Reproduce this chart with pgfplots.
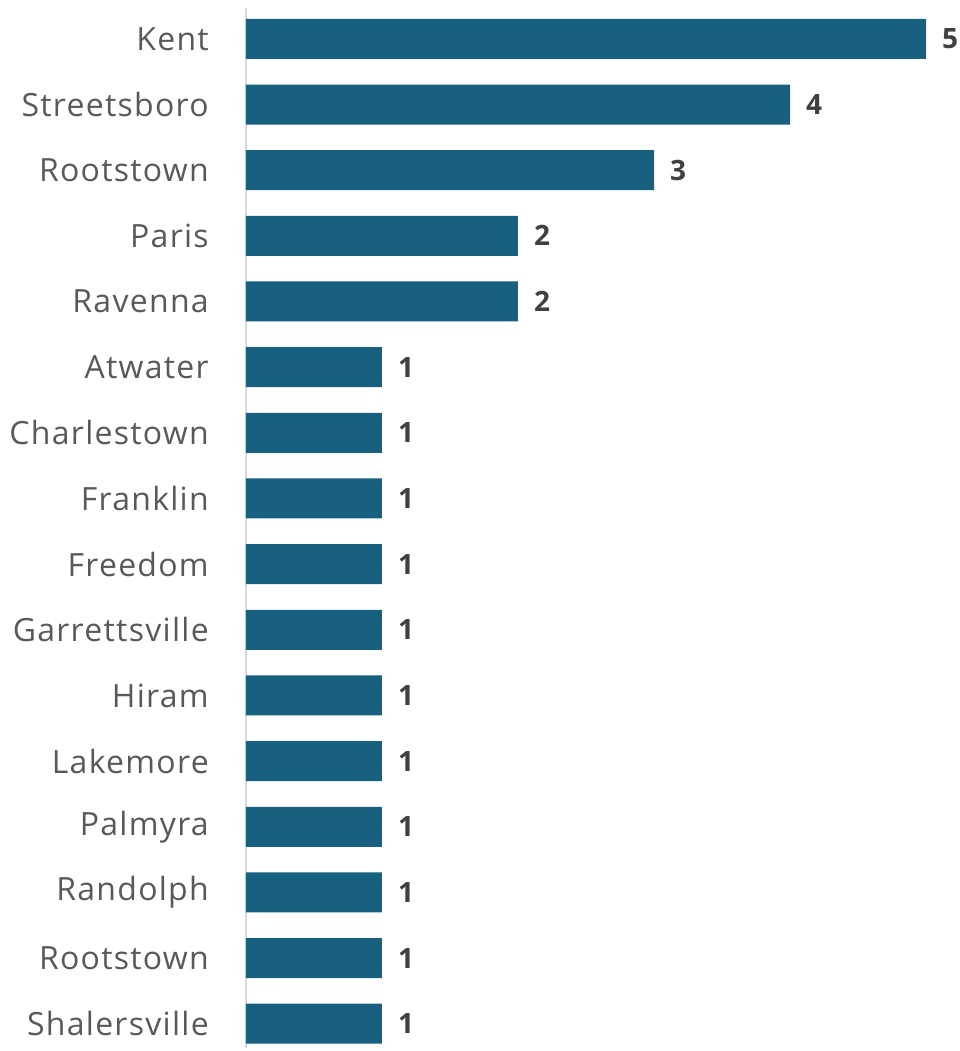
\documentclass[border=0pt]{standalone}
\usepackage{fontspec}
\setmainfont{Open Sans}
\usepackage{pgfplots}
\pgfplotsset{compat=1.18}
\definecolor{barc}{HTML}{17607F}
\definecolor{lab}{HTML}{595959}
\definecolor{val}{HTML}{404040}
\definecolor{axl}{HTML}{D9D9D9}
\begin{document}
\begin{tikzpicture}
\begin{axis}[
  at={(0,0)}, anchor=south west,
  scale only axis, width=680pt, height=1040pt,
  xmin=0, xmax=5, ymin=-0.47, ymax=15.37,
  y dir=reverse,
  xbar, bar width=40pt,
  axis x line=none,
  axis y line=left,
  axis line style={-, draw=axl, line width=2pt},
  ytick={0,...,15},
  yticklabels={Kent,Streetsboro,Rootstown,Paris,Ravenna,Atwater,Charlestown,Franklin,Freedom,Garrettsville,Hiram,Lakemore,Palmyra,Randolph,Rootstown,Shalersville},
  major tick length=0pt,
  yticklabel style={font=\fontsize{32}{36}\selectfont\addfontfeatures{LetterSpace=4}, text=lab, anchor=east, inner sep=0pt, xshift=-37pt},
  /pgf/number format/assume math mode=true,
  nodes near coords,
  every node near coord/.append style={font=\fontsize{28}{32}\selectfont\bfseries, text=val, anchor=west, inner sep=0pt, xshift=16pt},
  clip=false,
]
\addplot[fill=barc, draw=none] coordinates {
(5,0) (4,1) (3,2) (2,3) (2,4) (1,5) (1,6) (1,7) (1,8) (1,9) (1,10) (1,11) (1,12) (1,13) (1,14) (1,15)
};
\end{axis}
\pgfresetboundingbox
\path (-246pt,-3pt) rectangle (713pt,1048pt);
\end{tikzpicture}
\end{document}
